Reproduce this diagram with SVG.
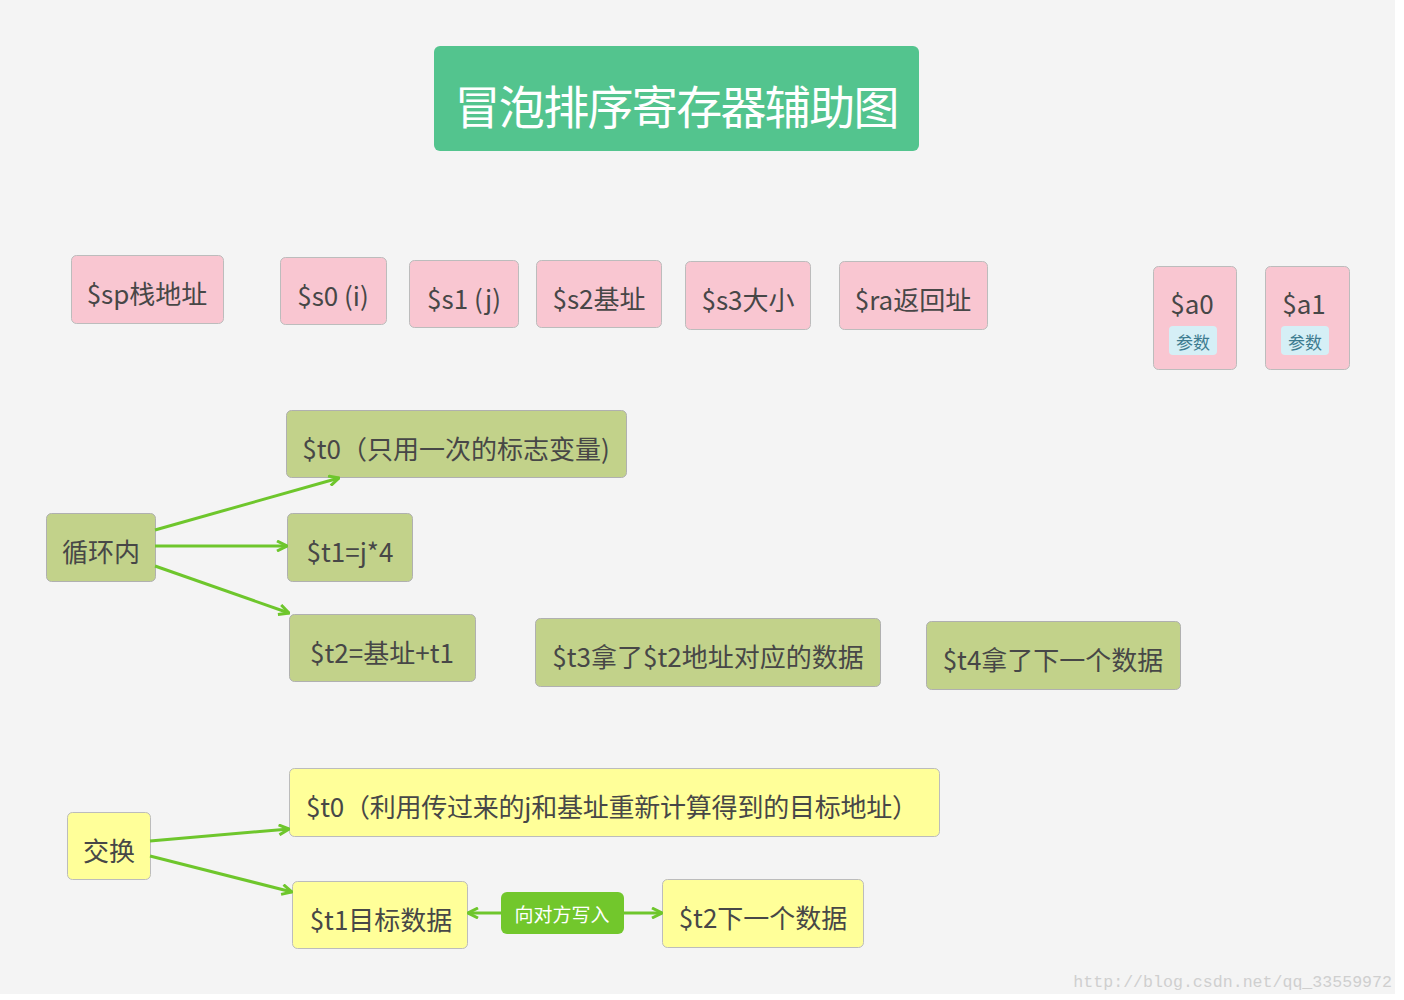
<svg xmlns="http://www.w3.org/2000/svg" width="1404" height="1000" viewBox="0 0 1404 1000">
<style>
.t{font-family:"Microsoft YaHei","Noto Sans CJK SC","Noto Sans",sans-serif;fill:#474747;font-size:26px;text-anchor:middle;dominant-baseline:central}
.pink{fill:#f9c6d1;stroke:#bcbcbc;stroke-width:1}
.grn{fill:#c2d28a;stroke:#b0b0b0;stroke-width:1}
.yel{fill:#ffff99;stroke:#bcbcbc;stroke-width:1}
.c{stroke:#6ec62c;stroke-width:3;fill:none}
</style>
<defs>
<marker id="ah" viewBox="0 0 12 12" refX="11" refY="6" markerWidth="12" markerHeight="12" markerUnits="userSpaceOnUse" orient="auto-start-reverse">
<path d="M1,1 L11,6 L1,11" fill="none" stroke="#6ec62c" stroke-width="3"/>
</marker>
</defs>
<rect x="0" y="0" width="1404" height="1000" fill="#ffffff"/>
<rect x="0" y="0" width="1395" height="994" fill="#f4f4f4"/>
<text x="1392" y="987" font-family="Liberation Mono,monospace" font-size="16.6" fill="#cfcfcf" text-anchor="end">http://blog.csdn.net/qq_33559972</text>

<g id="title">
<rect x="434" y="46" width="485" height="105" rx="6" fill="#53c48e"/>
<text class="t" x="677" y="104" style="font-size:46px;fill:#ffffff" textLength="445">冒泡排序寄存器辅助图</text>
</g>

<g id="sp"><rect class="pink" x="71.5" y="255.5" width="152" height="68" rx="5"/><text class="t" x="147" y="292">$sp栈地址</text></g>
<g id="s0"><rect class="pink" x="280.5" y="257.5" width="106" height="67" rx="5"/><text class="t" x="333" y="294">$s0 (i)</text></g>
<g id="s1"><rect class="pink" x="409.5" y="260.5" width="109" height="67" rx="5"/><text class="t" x="464" y="297">$s1 (j)</text></g>
<g id="s2"><rect class="pink" x="536.5" y="260.5" width="125" height="67" rx="5"/><text class="t" x="599" y="297">$s2基址</text></g>
<g id="s3"><rect class="pink" x="685.5" y="261.5" width="125" height="68" rx="5"/><text class="t" x="748" y="298">$s3大小</text></g>
<g id="ra"><rect class="pink" x="839.5" y="261.5" width="148" height="68" rx="5"/><text class="t" x="913" y="298">$ra返回址</text></g>
<g id="a0"><rect class="pink" x="1153.5" y="266.5" width="83" height="103" rx="5"/><text class="t" x="1192" y="302">$a0</text>
<rect x="1169" y="326" width="48" height="29" rx="4" fill="#d5eff6"/><text class="t" x="1193" y="341" style="font-size:17px;fill:#3d7b8f">参数</text></g>
<g id="a1"><rect class="pink" x="1265.5" y="266.5" width="84" height="103" rx="5"/><text class="t" x="1304" y="302">$a1</text>
<rect x="1281" y="326" width="48" height="29" rx="4" fill="#d5eff6"/><text class="t" x="1305" y="341" style="font-size:17px;fill:#3d7b8f">参数</text></g>

<g id="loop"><rect class="grn" x="46.5" y="513.5" width="109" height="68" rx="5"/><text class="t" x="101" y="550">循环内</text></g>
<g id="t0a"><rect class="grn" x="286.5" y="410.5" width="340" height="67" rx="5"/><text class="t" x="456" y="447">$t0（只用一次的标志变量)</text></g>
<g id="t1a"><rect class="grn" x="287.5" y="513.5" width="125" height="68" rx="5"/><text class="t" x="350" y="550">$t1=j*4</text></g>
<g id="t2a"><rect class="grn" x="289.5" y="614.5" width="186" height="67" rx="5"/><text class="t" x="382" y="651">$t2=基址+t1</text></g>
<g id="t3"><rect class="grn" x="535.5" y="618.5" width="345" height="68" rx="5"/><text class="t" x="708" y="655">$t3拿了$t2地址对应的数据</text></g>
<g id="t4"><rect class="grn" x="926.5" y="621.5" width="254" height="68" rx="5"/><text class="t" x="1053" y="658">$t4拿了下一个数据</text></g>

<g id="swap"><rect class="yel" x="67.5" y="812.5" width="83" height="67" rx="5"/><text class="t" x="109" y="849">交换</text></g>
<g id="t0b"><rect class="yel" x="289.5" y="768.5" width="650" height="68" rx="5"/><text class="t" x="612" y="805" textLength="612">$t0（利用传过来的j和基址重新计算得到的目标地址）</text></g>
<g id="t1b"><rect class="yel" x="292.5" y="881.5" width="175" height="67" rx="5"/><text class="t" x="381" y="918">$t1目标数据</text></g>
<g id="t2b"><rect class="yel" x="662.5" y="879.5" width="201" height="68" rx="5"/><text class="t" x="763" y="916">$t2下一个数据</text></g>

<g id="connectors">
<line class="c" x1="155" y1="530" x2="339" y2="478" marker-end="url(#ah)"/>
<line class="c" x1="155" y1="546" x2="287" y2="546" marker-end="url(#ah)"/>
<line class="c" x1="155" y1="566" x2="289" y2="613" marker-end="url(#ah)"/>
<line class="c" x1="150" y1="841" x2="289" y2="829" marker-end="url(#ah)"/>
<line class="c" x1="150" y1="856" x2="292" y2="892" marker-end="url(#ah)"/>
<line class="c" x1="501" y1="913" x2="468" y2="913" marker-end="url(#ah)"/>
<line class="c" x1="624" y1="913" x2="662" y2="913" marker-end="url(#ah)"/>
<g id="edge-label"><rect x="501" y="892" width="123" height="42" rx="6" fill="#72c72c"/><text class="t" x="562" y="913" style="font-size:19px;fill:#ffffff">向对方写入</text></g>
</g>
</svg>
